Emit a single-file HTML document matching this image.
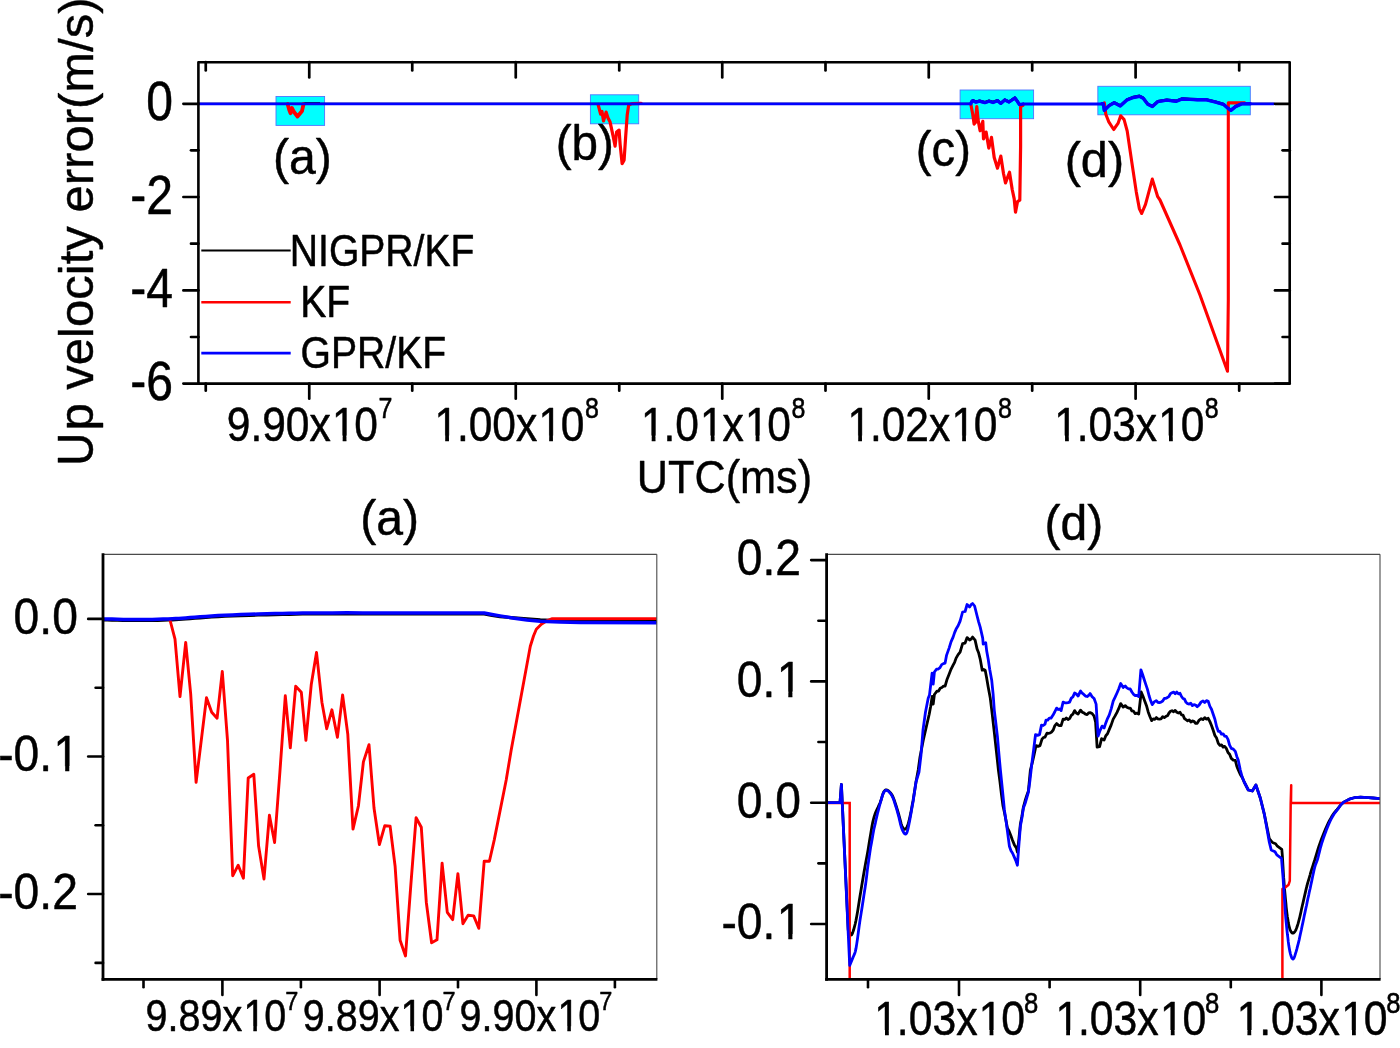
<!DOCTYPE html>
<html><head><meta charset="utf-8"><title>chart</title>
<style>html,body{margin:0;padding:0;background:#fff;}svg{display:block;will-change:transform;}text{font-family:"Liberation Sans",sans-serif;stroke:#000;stroke-width:0.45px;stroke-linejoin:round;}</style>
</head><body>
<svg width="1400" height="1048" viewBox="0 0 1400 1048">
<rect width="1400" height="1048" fill="#fff"/>
<rect x="276" y="96.5" width="48.60" height="28.90" fill="#00ffff" stroke="#4f74ff" stroke-width="0.9"/>
<rect x="590.4" y="94.8" width="48.30" height="29.00" fill="#00ffff" stroke="#4f74ff" stroke-width="0.9"/>
<rect x="960.1" y="90" width="73.50" height="28.70" fill="#00ffff" stroke="#4f74ff" stroke-width="0.9"/>
<rect x="1097.85" y="86.3" width="152.45" height="28.50" fill="#00ffff" stroke="#4f74ff" stroke-width="0.9"/>
<polyline points="198.4,103.8 970.8,103.8 971.5,101.3 972.8,100.0 976.0,101.5 979.5,100.4 984.8,102.0 989.0,100.5 993.0,101.8 997.5,100.0 1000.8,102.7 1004.8,99.3 1009.0,101.3 1012.0,99.3 1014.9,97.3 1016.9,100.0 1019.5,104.0 1022.9,104.0 1102.0,103.8 1103.4,103.3 1104.3,109.7 1108.8,105.2 1114.2,102.1 1120.3,105.2 1127.2,99.1 1133.3,96.8 1139.4,95.6 1143.2,97.5 1147.8,103.6 1152.3,105.9 1157.7,101.0 1166.8,99.4 1176.0,100.6 1182.1,98.3 1190.0,98.7 1197.4,99.1 1206.5,99.1 1215.7,101.4 1223.3,103.6 1227.9,107.5 1230.9,109.7 1235.5,105.9 1241.6,103.2 1250.3,103.8 1273.8,103.8" fill="none" stroke="#000000" stroke-width="2.0" stroke-linejoin="round" stroke-linecap="round" />
<line x1="303.60" y1="102.80" x2="320.00" y2="102.80" stroke="#000000" stroke-width="1.2" stroke-linecap="butt"/>
<polyline points="287.6,104.0 289.3,110.0 290.5,113.2 292.0,108.0 294.0,112.0 297.5,116.5 300.0,113.5 302.0,111.0 303.6,104.0" fill="none" stroke="#ff0000" stroke-width="3.8" stroke-linejoin="round" stroke-linecap="round" />
<polyline points="598.1,104.5 600.6,114.1 602.0,111.5 603.5,121.0 606.1,112.1 608.0,118.0 610.1,122.1 613.1,136.1 615.1,146.1 616.6,132.1 619.1,130.1 620.1,144.1 622.1,163.7 624.1,160.2 625.7,136.1 627.2,115.1 628.7,105.0 632.0,103.6 641.2,103.4" fill="none" stroke="#ff0000" stroke-width="3.2" stroke-linejoin="round" stroke-linecap="round" />
<polyline points="970.8,104.0 972.8,114.7 974.1,124.1 975.4,122.5 976.8,106.7 978.1,120.1 980.1,130.8 982.8,121.4 983.5,138.8 986.1,132.1 988.8,148.1 991.5,137.4 994.2,157.5 997.5,168.2 1000.8,156.1 1003.5,173.5 1005.5,182.9 1009.5,172.2 1012.2,189.5 1014.2,198.9 1015.5,212.2 1017.5,201.6 1019.8,200.2 1020.6,146.8 1020.6,106.7 1022.9,105.4" fill="none" stroke="#ff0000" stroke-width="3.2" stroke-linejoin="round" stroke-linecap="round" />
<polyline points="1104.3,102.8 1105.8,114.3 1108.8,121.9 1113.7,129.5 1118.0,123.4 1120.7,115.8 1124.1,119.6 1127.2,131.0 1131.7,161.6 1136.3,192.1 1139.4,208.9 1141.7,213.5 1145.5,204.3 1152.3,179.1 1157.7,196.7 1160.0,200.0 1180.0,245.0 1200.0,295.0 1227.5,371.2 1228.3,300.0 1228.3,102.8 1244.7,102.9" fill="none" stroke="#ff0000" stroke-width="3.1" stroke-linejoin="round" stroke-linecap="round" />
<polyline points="198.4,103.8 970.8,103.8 971.5,102.0 972.8,100.7 976.0,102.2 979.5,101.1 984.8,102.7 989.0,101.2 993.0,102.5 997.5,100.7 1000.8,103.4 1004.8,100.0 1009.0,102.0 1012.0,100.0 1014.9,98.0 1016.9,100.7 1019.5,104.7 1022.9,104.0 1102.0,103.8 1103.4,104.0 1104.3,110.4 1108.8,105.9 1114.2,102.8 1120.3,105.9 1127.2,99.8 1133.3,97.5 1139.4,96.3 1143.2,98.2 1147.8,104.3 1152.3,106.6 1157.7,101.7 1166.8,100.1 1176.0,101.3 1182.1,99.0 1190.0,99.4 1197.4,99.8 1206.5,99.8 1215.7,102.1 1223.3,104.3 1227.9,108.2 1230.9,110.4 1235.5,106.6 1241.6,103.9 1250.3,103.8 1273.8,103.8" fill="none" stroke="#0000ff" stroke-width="2.8" stroke-linejoin="round" stroke-linecap="round" />
<polyline points="970.8,103.8 971.5,102.0 972.8,100.7 976.0,102.2 979.5,101.1 984.8,102.7 989.0,101.2 993.0,102.5 997.5,100.7 1000.8,103.4 1004.8,100.0 1009.0,102.0 1012.0,100.0 1014.9,98.0 1016.9,100.7 1019.5,104.7 1022.9,104.0" fill="none" stroke="#0000ff" stroke-width="3.3" stroke-linejoin="round" stroke-linecap="round" />
<polyline points="1102.0,103.8 1103.4,104.0 1104.3,110.4 1108.8,105.9 1114.2,102.8 1120.3,105.9 1127.2,99.8 1133.3,97.5 1139.4,96.3 1143.2,98.2 1147.8,104.3 1152.3,106.6 1157.7,101.7 1166.8,100.1 1176.0,101.3 1182.1,99.0 1190.0,99.4 1197.4,99.8 1206.5,99.8 1215.7,102.1 1223.3,104.3 1227.9,108.2 1230.9,110.4 1235.5,106.6 1241.6,103.9 1250.3,103.8" fill="none" stroke="#0000ff" stroke-width="3.4" stroke-linejoin="round" stroke-linecap="round" />
<rect x="198.4" y="62.2" width="1091.30" height="321.40" fill="none" stroke="#000" stroke-width="2.6" stroke-linejoin="round"/>
<line x1="183.40" y1="103.80" x2="198.40" y2="103.80" stroke="#000" stroke-width="2.7" stroke-linecap="round"/>
<line x1="1275.00" y1="103.80" x2="1289.70" y2="103.80" stroke="#000" stroke-width="2.7" stroke-linecap="round"/>
<line x1="183.40" y1="197.00" x2="198.40" y2="197.00" stroke="#000" stroke-width="2.7" stroke-linecap="round"/>
<line x1="1275.00" y1="197.00" x2="1289.70" y2="197.00" stroke="#000" stroke-width="2.7" stroke-linecap="round"/>
<line x1="183.40" y1="290.40" x2="198.40" y2="290.40" stroke="#000" stroke-width="2.7" stroke-linecap="round"/>
<line x1="1275.00" y1="290.40" x2="1289.70" y2="290.40" stroke="#000" stroke-width="2.7" stroke-linecap="round"/>
<line x1="183.40" y1="383.60" x2="198.40" y2="383.60" stroke="#000" stroke-width="2.7" stroke-linecap="round"/>
<line x1="1275.00" y1="383.60" x2="1289.70" y2="383.60" stroke="#000" stroke-width="2.7" stroke-linecap="round"/>
<line x1="191.00" y1="150.30" x2="198.40" y2="150.30" stroke="#000" stroke-width="2.7" stroke-linecap="round"/>
<line x1="1282.60" y1="150.30" x2="1289.70" y2="150.30" stroke="#000" stroke-width="2.7" stroke-linecap="round"/>
<line x1="191.00" y1="243.70" x2="198.40" y2="243.70" stroke="#000" stroke-width="2.7" stroke-linecap="round"/>
<line x1="1282.60" y1="243.70" x2="1289.70" y2="243.70" stroke="#000" stroke-width="2.7" stroke-linecap="round"/>
<line x1="191.00" y1="337.00" x2="198.40" y2="337.00" stroke="#000" stroke-width="2.7" stroke-linecap="round"/>
<line x1="1282.60" y1="337.00" x2="1289.70" y2="337.00" stroke="#000" stroke-width="2.7" stroke-linecap="round"/>
<line x1="309.25" y1="62.20" x2="309.25" y2="77.50" stroke="#000" stroke-width="2.7" stroke-linecap="round"/>
<line x1="309.25" y1="383.60" x2="309.25" y2="398.70" stroke="#000" stroke-width="2.7" stroke-linecap="round"/>
<line x1="515.75" y1="62.20" x2="515.75" y2="77.50" stroke="#000" stroke-width="2.7" stroke-linecap="round"/>
<line x1="515.75" y1="383.60" x2="515.75" y2="398.70" stroke="#000" stroke-width="2.7" stroke-linecap="round"/>
<line x1="722.25" y1="62.20" x2="722.25" y2="77.50" stroke="#000" stroke-width="2.7" stroke-linecap="round"/>
<line x1="722.25" y1="383.60" x2="722.25" y2="398.70" stroke="#000" stroke-width="2.7" stroke-linecap="round"/>
<line x1="928.75" y1="62.20" x2="928.75" y2="77.50" stroke="#000" stroke-width="2.7" stroke-linecap="round"/>
<line x1="928.75" y1="383.60" x2="928.75" y2="398.70" stroke="#000" stroke-width="2.7" stroke-linecap="round"/>
<line x1="1135.60" y1="62.20" x2="1135.60" y2="77.50" stroke="#000" stroke-width="2.7" stroke-linecap="round"/>
<line x1="1135.60" y1="383.60" x2="1135.60" y2="398.70" stroke="#000" stroke-width="2.7" stroke-linecap="round"/>
<line x1="205.75" y1="62.20" x2="205.75" y2="70.40" stroke="#000" stroke-width="2.7" stroke-linecap="round"/>
<line x1="205.75" y1="383.60" x2="205.75" y2="390.70" stroke="#000" stroke-width="2.7" stroke-linecap="round"/>
<line x1="412.25" y1="62.20" x2="412.25" y2="70.40" stroke="#000" stroke-width="2.7" stroke-linecap="round"/>
<line x1="412.25" y1="383.60" x2="412.25" y2="390.70" stroke="#000" stroke-width="2.7" stroke-linecap="round"/>
<line x1="619.25" y1="62.20" x2="619.25" y2="70.40" stroke="#000" stroke-width="2.7" stroke-linecap="round"/>
<line x1="619.25" y1="383.60" x2="619.25" y2="390.70" stroke="#000" stroke-width="2.7" stroke-linecap="round"/>
<line x1="825.50" y1="62.20" x2="825.50" y2="70.40" stroke="#000" stroke-width="2.7" stroke-linecap="round"/>
<line x1="825.50" y1="383.60" x2="825.50" y2="390.70" stroke="#000" stroke-width="2.7" stroke-linecap="round"/>
<line x1="1032.20" y1="62.20" x2="1032.20" y2="70.40" stroke="#000" stroke-width="2.7" stroke-linecap="round"/>
<line x1="1032.20" y1="383.60" x2="1032.20" y2="390.70" stroke="#000" stroke-width="2.7" stroke-linecap="round"/>
<line x1="1239.20" y1="62.20" x2="1239.20" y2="70.40" stroke="#000" stroke-width="2.7" stroke-linecap="round"/>
<line x1="1239.20" y1="383.60" x2="1239.20" y2="390.70" stroke="#000" stroke-width="2.7" stroke-linecap="round"/>
<text transform="translate(172.90,120.30) scale(1.0000,1.1455)" font-size="48.1" text-anchor="end" fill="#000">0</text>
<text transform="translate(172.90,213.50) scale(1.0000,1.1455)" font-size="48.1" text-anchor="end" fill="#000">-2</text>
<text transform="translate(172.90,306.90) scale(1.0000,1.1455)" font-size="48.1" text-anchor="end" fill="#000">-4</text>
<text transform="translate(172.90,400.10) scale(1.0000,1.1455)" font-size="48.1" text-anchor="end" fill="#000">-6</text>
<clipPath id="k1"><path clip-rule="evenodd" d="M-2000,-2000H2000V2000H-2000ZM106.52,-4.47H115.93V2.12H106.52ZM119.69,-4.47H127.77V2.12H119.69Z"/></clipPath>
<text transform="translate(226.75,440.50) scale(1.0000,1.1106)" font-size="42.5" text-anchor="start" fill="#000" clip-path="url(#k1)"><tspan x="0.00">9.90x</tspan><tspan x="105.24">1</tspan><tspan x="127.61">0</tspan></text>
<text transform="translate(378.45,417.80) scale(1.0000,1.1680)" font-size="25.0" text-anchor="start" fill="#000">7</text>
<clipPath id="k2"><path clip-rule="evenodd" d="M-2000,-2000H2000V2000H-2000ZM2.55,-4.47H11.96V2.12H2.55ZM15.72,-4.47H23.80V2.12H15.72ZM106.52,-4.47H115.93V2.12H106.52ZM119.69,-4.47H127.77V2.12H119.69Z"/></clipPath>
<text transform="translate(433.25,440.50) scale(1.0000,1.1106)" font-size="42.5" text-anchor="start" fill="#000" clip-path="url(#k2)"><tspan x="1.27">1</tspan><tspan x="23.64">.00x</tspan><tspan x="105.24">1</tspan><tspan x="127.61">0</tspan></text>
<text transform="translate(584.95,417.80) scale(1.0000,1.1680)" font-size="25.0" text-anchor="start" fill="#000">8</text>
<clipPath id="k3"><path clip-rule="evenodd" d="M-2000,-2000H2000V2000H-2000ZM2.55,-4.47H11.96V2.12H2.55ZM15.72,-4.47H23.80V2.12H15.72ZM61.63,-4.47H71.05V2.12H61.63ZM74.80,-4.47H82.88V2.12H74.80ZM106.52,-4.47H115.93V2.12H106.52ZM119.69,-4.47H127.77V2.12H119.69Z"/></clipPath>
<text transform="translate(639.75,440.50) scale(1.0000,1.1106)" font-size="42.5" text-anchor="start" fill="#000" clip-path="url(#k3)"><tspan x="1.27">1</tspan><tspan x="23.64">.0</tspan><tspan x="60.36">1</tspan><tspan x="82.72">x</tspan><tspan x="105.24">1</tspan><tspan x="127.61">0</tspan></text>
<text transform="translate(791.45,417.80) scale(1.0000,1.1680)" font-size="25.0" text-anchor="start" fill="#000">8</text>
<clipPath id="k4"><path clip-rule="evenodd" d="M-2000,-2000H2000V2000H-2000ZM2.55,-4.47H11.96V2.12H2.55ZM15.72,-4.47H23.80V2.12H15.72ZM106.52,-4.47H115.93V2.12H106.52ZM119.69,-4.47H127.77V2.12H119.69Z"/></clipPath>
<text transform="translate(846.25,440.50) scale(1.0000,1.1106)" font-size="42.5" text-anchor="start" fill="#000" clip-path="url(#k4)"><tspan x="1.27">1</tspan><tspan x="23.64">.02x</tspan><tspan x="105.24">1</tspan><tspan x="127.61">0</tspan></text>
<text transform="translate(997.95,417.80) scale(1.0000,1.1680)" font-size="25.0" text-anchor="start" fill="#000">8</text>
<clipPath id="k5"><path clip-rule="evenodd" d="M-2000,-2000H2000V2000H-2000ZM2.55,-4.47H11.96V2.12H2.55ZM15.72,-4.47H23.80V2.12H15.72ZM106.52,-4.47H115.93V2.12H106.52ZM119.69,-4.47H127.77V2.12H119.69Z"/></clipPath>
<text transform="translate(1053.10,440.50) scale(1.0000,1.1106)" font-size="42.5" text-anchor="start" fill="#000" clip-path="url(#k5)"><tspan x="1.27">1</tspan><tspan x="23.64">.03x</tspan><tspan x="105.24">1</tspan><tspan x="127.61">0</tspan></text>
<text transform="translate(1204.80,417.80) scale(1.0000,1.1680)" font-size="25.0" text-anchor="start" fill="#000">8</text>
<text transform="translate(636.80,493.06) scale(0.8647,0.9185)" font-size="50" fill="#000" >UTC(ms)</text>
<text transform="translate(93.20,465.70) rotate(-90) scale(0.9300,1.0336)" font-size="49.05" text-anchor="start" fill="#000">U</text>
<text transform="translate(93.20,430.58) rotate(-90) scale(1.0000,0.9623)" font-size="49.05" text-anchor="start" fill="#000">p velocity error(m/s)</text>
<line x1="201.30" y1="250.50" x2="290.70" y2="250.50" stroke="#000000" stroke-width="2.0" stroke-linecap="butt"/>
<line x1="201.30" y1="302.30" x2="290.70" y2="302.30" stroke="#ff0000" stroke-width="2.6" stroke-linecap="butt"/>
<line x1="201.30" y1="353.10" x2="290.70" y2="353.10" stroke="#0000ff" stroke-width="2.6" stroke-linecap="butt"/>
<text transform="translate(289.80,265.80) scale(1.0000,1.1304)" font-size="39.1" text-anchor="start" fill="#000">NIGPR/KF</text>
<text transform="translate(300.20,316.60) scale(1.0000,1.1304)" font-size="39.1" text-anchor="start" fill="#000">KF</text>
<text transform="translate(300.60,367.80) scale(1.0000,1.1304)" font-size="39.1" text-anchor="start" fill="#000">GPR/KF</text>
<text transform="translate(273.01,174.44) scale(0.9636,1.0053)" font-size="50" fill="#000" >(a)</text>
<text transform="translate(555.64,160.34) scale(0.9527,1.0053)" font-size="50" fill="#000" >(b)</text>
<text transform="translate(915.86,166.14) scale(0.9455,1.0053)" font-size="50" fill="#000" >(c)</text>
<text transform="translate(1064.68,176.94) scale(0.9727,1.0053)" font-size="50" fill="#000" >(d)</text>
<clipPath id="c2"><rect x="103.0" y="554.35" width="553.8" height="424.94999999999993"/></clipPath>
<g clip-path="url(#c2)">
<polyline points="104.0,619.9 107.3,620.0 112.0,620.1 117.4,620.2 123.4,620.4 129.4,620.5 135.0,620.5 140.5,620.5 146.3,620.4 152.1,620.4 157.7,620.3 163.1,620.1 168.0,620.0 172.2,619.8 175.7,619.6 178.9,619.4 182.1,619.2 185.7,618.9 190.0,618.6 194.9,618.2 200.1,617.8 205.8,617.4 211.7,617.0 218.1,616.6 225.0,616.2 232.5,615.9 240.7,615.6 249.4,615.3 258.1,615.0 266.8,614.8 275.0,614.6 282.4,614.4 289.1,614.3 295.6,614.2 302.6,614.0 310.5,614.0 320.0,613.9 332.2,613.9 347.0,613.8 362.8,613.9 378.0,613.9 390.9,613.9 400.0,613.9 484.2,614.0 492.0,615.5 500.0,616.6 514.2,617.9 527.0,618.8 540.3,619.9 560.0,620.8 580.4,621.3 656.5,621.5" fill="none" stroke="#000000" stroke-width="3.2" stroke-linejoin="round" stroke-linecap="round" />
<polyline points="170.0,620.0 175.0,639.1 180.0,696.6 185.7,642.5 190.7,694.2 196.1,782.4 201.3,740.1 206.5,697.8 211.7,712.2 217.1,718.2 222.3,671.5 227.5,740.3 232.7,875.8 238.2,865.2 243.4,878.2 248.2,778.0 253.8,774.3 258.6,846.1 264.0,879.0 269.4,815.3 274.6,842.5 279.9,772.0 285.3,695.8 290.3,747.9 295.7,686.2 301.3,692.2 305.9,740.3 311.3,684.2 316.5,652.5 321.9,702.2 326.7,728.7 331.9,709.8 337.4,737.3 342.6,695.0 347.8,734.3 353.0,829.1 358.4,806.0 363.4,761.9 369.0,744.7 374.0,808.0 379.4,844.5 384.8,825.7 390.1,826.1 395.1,866.2 400.1,940.3 405.5,956.0 410.9,884.2 416.1,817.7 421.3,827.3 426.3,902.2 431.6,942.7 437.0,939.8 442.1,863.2 447.3,912.3 452.7,919.7 457.9,873.6 462.9,923.7 468.1,915.3 473.7,915.9 478.8,928.3 484.2,861.2 489.4,861.2 494.2,840.1 506.2,780.0 511.2,750.0 530.3,646.2 533.5,636.0 536.3,629.2 541.3,624.2 547.3,620.6 552.3,618.7 657.0,618.6" fill="none" stroke="#ff0000" stroke-width="2.9" stroke-linejoin="round" stroke-linecap="round" />
<polyline points="104.0,618.9 107.3,619.0 112.0,619.1 117.4,619.2 123.4,619.4 129.4,619.5 135.0,619.5 140.5,619.5 146.3,619.4 152.1,619.4 157.7,619.3 163.1,619.1 168.0,619.0 172.2,618.8 175.7,618.6 178.9,618.4 182.1,618.2 185.7,617.9 190.0,617.6 194.9,617.2 200.1,616.8 205.8,616.4 211.7,616.0 218.1,615.6 225.0,615.2 232.5,614.9 240.7,614.6 249.4,614.3 258.1,614.0 266.8,613.8 275.0,613.6 282.4,613.4 289.1,613.3 295.6,613.2 302.6,613.0 310.5,613.0 320.0,612.9 332.2,612.9 347.0,612.8 362.8,612.9 378.0,612.9 390.9,612.9 400.0,612.9 484.2,613.0 492.0,614.5 500.0,615.9 514.2,618.2 527.0,619.9 540.3,621.2 560.0,622.1 580.4,622.6 656.5,622.8" fill="none" stroke="#0000ff" stroke-width="3.5" stroke-linejoin="round" stroke-linecap="round" />
</g>
<line x1="103.00" y1="554.35" x2="656.80" y2="554.35" stroke="#4a4a4a" stroke-width="1.1" stroke-linecap="butt"/>
<line x1="656.80" y1="554.35" x2="656.80" y2="979.30" stroke="#4a4a4a" stroke-width="1.1" stroke-linecap="butt"/>
<line x1="103.00" y1="553.35" x2="103.00" y2="980.70" stroke="#000" stroke-width="2.8" stroke-linecap="butt"/>
<line x1="101.60" y1="979.30" x2="657.40" y2="979.30" stroke="#000" stroke-width="2.8" stroke-linecap="butt"/>
<line x1="88.20" y1="618.90" x2="103.00" y2="618.90" stroke="#000" stroke-width="2.6" stroke-linecap="round"/>
<line x1="88.20" y1="756.45" x2="103.00" y2="756.45" stroke="#000" stroke-width="2.6" stroke-linecap="round"/>
<line x1="88.20" y1="894.00" x2="103.00" y2="894.00" stroke="#000" stroke-width="2.6" stroke-linecap="round"/>
<line x1="95.60" y1="687.70" x2="103.00" y2="687.70" stroke="#000" stroke-width="2.6" stroke-linecap="round"/>
<line x1="95.60" y1="825.20" x2="103.00" y2="825.20" stroke="#000" stroke-width="2.6" stroke-linecap="round"/>
<line x1="95.60" y1="962.90" x2="103.00" y2="962.90" stroke="#000" stroke-width="2.6" stroke-linecap="round"/>
<line x1="222.40" y1="979.30" x2="222.40" y2="995.00" stroke="#000" stroke-width="2.6" stroke-linecap="round"/>
<line x1="379.60" y1="979.30" x2="379.60" y2="995.00" stroke="#000" stroke-width="2.6" stroke-linecap="round"/>
<line x1="536.40" y1="979.30" x2="536.40" y2="995.00" stroke="#000" stroke-width="2.6" stroke-linecap="round"/>
<line x1="143.50" y1="979.30" x2="143.50" y2="987.20" stroke="#000" stroke-width="2.6" stroke-linecap="round"/>
<line x1="300.90" y1="979.30" x2="300.90" y2="987.20" stroke="#000" stroke-width="2.6" stroke-linecap="round"/>
<line x1="458.00" y1="979.30" x2="458.00" y2="987.20" stroke="#000" stroke-width="2.6" stroke-linecap="round"/>
<line x1="614.90" y1="979.30" x2="614.90" y2="987.20" stroke="#000" stroke-width="2.6" stroke-linecap="round"/>
<text transform="translate(77.90,633.80) scale(1.0000,1.0941)" font-size="46.25" text-anchor="end" fill="#000">0.0</text>
<clipPath id="k6"><path clip-rule="evenodd" d="M-2000,-2000H2000V2000H-2000ZM-22.95,-4.75H-12.70V2.31H-22.95ZM-8.62,-4.75H0.18V2.31H-8.62Z"/></clipPath>
<text transform="translate(77.90,771.35) scale(1.0000,1.0941)" font-size="46.25" text-anchor="start" fill="#000" clip-path="url(#k6)"><tspan x="-79.70">-0.</tspan><tspan x="-24.34">1</tspan></text>
<text transform="translate(77.90,908.90) scale(1.0000,1.0941)" font-size="46.25" text-anchor="end" fill="#000">-0.2</text>
<clipPath id="k7"><path clip-rule="evenodd" d="M-2000,-2000H2000V2000H-2000ZM99.00,-4.25H107.75V1.98H99.00ZM111.24,-4.25H118.75V1.98H111.24Z"/></clipPath>
<text transform="translate(145.60,1031.00) scale(1.0000,1.1063)" font-size="39.5" text-anchor="start" fill="#000" clip-path="url(#k7)"><tspan x="0.00">9.89x</tspan><tspan x="97.81">1</tspan><tspan x="118.60">0</tspan></text>
<text transform="translate(285.30,1009.70) scale(1.0000,1.0851)" font-size="23.5" text-anchor="start" fill="#000">7</text>
<clipPath id="k8"><path clip-rule="evenodd" d="M-2000,-2000H2000V2000H-2000ZM99.00,-4.25H107.75V1.98H99.00ZM111.24,-4.25H118.75V1.98H111.24Z"/></clipPath>
<text transform="translate(302.80,1031.00) scale(1.0000,1.1063)" font-size="39.5" text-anchor="start" fill="#000" clip-path="url(#k8)"><tspan x="0.00">9.89x</tspan><tspan x="97.81">1</tspan><tspan x="118.60">0</tspan></text>
<text transform="translate(442.50,1009.70) scale(1.0000,1.0851)" font-size="23.5" text-anchor="start" fill="#000">7</text>
<clipPath id="k9"><path clip-rule="evenodd" d="M-2000,-2000H2000V2000H-2000ZM99.00,-4.25H107.75V1.98H99.00ZM111.24,-4.25H118.75V1.98H111.24Z"/></clipPath>
<text transform="translate(459.60,1031.00) scale(1.0000,1.1063)" font-size="39.5" text-anchor="start" fill="#000" clip-path="url(#k9)"><tspan x="0.00">9.90x</tspan><tspan x="97.81">1</tspan><tspan x="118.60">0</tspan></text>
<text transform="translate(599.30,1009.70) scale(1.0000,1.0851)" font-size="23.5" text-anchor="start" fill="#000">7</text>
<text transform="translate(360.16,535.46) scale(0.9631,1.0015)" font-size="50" fill="#000" >(a)</text>
<clipPath id="c3"><rect x="826.6" y="554.35" width="553.4" height="424.94999999999993"/></clipPath>
<g clip-path="url(#c3)">
<polyline points="827.0,802.7 840.0,802.7 841.4,784.4 848.2,930.0 850.0,933.3 850.2,933.7 850.6,934.3 851.0,934.9 851.4,935.0 852.0,934.3 852.7,932.6 853.5,930.3 854.3,927.3 855.2,924.0 856.0,920.3 856.8,916.1 857.6,911.4 858.4,906.4 859.2,901.3 860.0,896.3 860.8,891.5 861.6,886.6 862.4,881.7 863.2,876.9 864.0,872.2 864.8,867.7 865.6,863.3 866.4,859.1 867.2,854.7 868.0,850.2 868.8,845.3 869.6,840.1 870.5,835.0 871.3,830.2 872.0,826.1 872.6,822.9 873.2,820.4 873.7,818.3 874.3,816.2 875.0,814.1 875.9,811.8 876.9,809.6 878.0,807.4 879.0,805.2 880.0,803.0 880.9,800.6 881.7,797.9 882.4,795.4 883.2,793.1 884.0,791.5 884.8,790.5 885.6,790.0 886.3,789.9 887.1,790.1 888.0,790.5 888.9,791.2 889.9,792.2 891.0,793.4 892.0,795.0 893.0,797.0 894.0,799.5 895.0,802.4 896.1,805.7 897.1,808.9 898.0,812.0 898.9,815.0 899.7,818.2 900.5,821.2 901.2,823.9 902.0,826.0 902.7,827.5 903.4,828.5 904.1,829.1 904.8,829.3 905.5,829.0 906.2,828.3 906.9,827.2 907.6,825.6 908.3,823.5 909.0,821.0 909.8,817.4 910.8,812.9 911.7,808.1 912.4,803.9 913.0,801.0 916.0,782.0 918.2,770.0 920.0,757.0 923.2,740.4 929.2,714.3 930.7,706.3 932.2,696.3 933.2,704.0 934.4,694.5 937.0,691.2 938.6,691.0 940.2,688.3 941.9,687.5 943.5,686.2 945.1,686.2 947.1,679.2 949.1,674.2 951.1,669.1 953.1,665.1 954.6,662.3 956.1,658.1 958.1,654.6 960.1,652.1 962.6,643.6 965.1,643.1 967.1,637.6 969.6,640.1 971.1,639.1 972.6,637.1 975.1,640.1 977.1,649.1 978.7,653.1 980.2,659.1 982.2,670.2 983.7,669.4 985.2,670.2 986.7,678.2 988.2,687.1 989.7,695.0 990.3,698.3 992.3,714.8 994.3,732.3 996.3,750.5 998.4,770.0 999.9,781.2 1001.5,794.8 1003.0,806.0 1004.5,812.8 1005.9,820.0 1007.4,828.0 1009.1,831.2 1010.7,835.3 1012.4,840.0 1014.4,844.9 1016.4,848.0 1017.4,852.2 1018.9,838.9 1020.4,824.0 1021.9,816.2 1023.4,807.0 1025.1,800.8 1026.7,795.8 1028.4,791.0 1030.4,770.0 1032.3,762.6 1034.1,754.6 1036.0,745.6 1038.0,746.4 1040.0,745.6 1042.0,739.1 1043.5,737.5 1045.0,737.1 1047.0,733.1 1048.5,733.3 1050.0,733.0 1051.5,732.1 1053.2,730.0 1054.9,725.6 1056.6,723.6 1058.1,724.9 1059.6,725.7 1061.1,725.6 1063.1,719.1 1064.7,719.5 1066.3,717.9 1068.0,719.6 1069.6,718.6 1071.3,715.4 1072.9,714.1 1074.6,710.6 1076.3,713.0 1078.1,714.1 1080.6,710.1 1082.2,712.2 1083.8,712.9 1085.5,714.2 1087.1,714.6 1088.6,712.9 1090.1,712.6 1092.1,713.5 1094.1,716.1 1095.6,722.1 1097.1,747.1 1099.6,746.6 1101.6,738.6 1104.1,740.1 1105.8,735.7 1107.5,733.8 1109.2,729.6 1111.2,724.9 1113.2,719.1 1115.1,715.9 1117.0,712.3 1118.8,708.4 1120.7,703.6 1123.2,707.1 1125.2,705.6 1126.9,707.3 1128.5,708.1 1130.2,708.1 1131.9,710.9 1133.5,711.2 1135.2,713.6 1137.0,713.2 1138.7,714.1 1141.2,692.0 1143.0,696.3 1144.7,700.9 1146.5,705.7 1148.2,711.9 1150.0,716.8 1151.7,720.6 1153.2,718.9 1154.8,719.3 1156.3,717.6 1157.8,718.9 1159.3,719.1 1161.0,718.9 1162.7,716.7 1164.3,717.6 1166.0,716.3 1167.5,715.7 1169.0,713.0 1170.5,711.3 1172.0,710.7 1173.6,711.8 1175.2,710.4 1176.8,712.2 1178.4,713.0 1180.0,712.3 1181.5,714.9 1183.0,715.1 1184.5,718.6 1186.0,719.7 1187.6,720.8 1189.2,719.9 1190.8,722.0 1192.4,721.0 1194.0,721.3 1195.6,723.4 1197.2,723.3 1199.2,720.1 1201.2,718.7 1203.0,719.6 1204.7,717.7 1206.5,719.2 1208.2,718.3 1209.9,721.6 1211.5,725.5 1213.2,730.3 1214.9,735.5 1216.6,738.1 1218.3,743.4 1219.9,745.3 1221.5,744.8 1223.1,747.1 1224.7,746.4 1226.3,748.4 1228.0,752.5 1229.6,754.2 1231.3,758.4 1233.3,760.1 1235.3,760.4 1236.8,766.2 1238.3,770.0 1240.3,774.5 1242.2,777.4 1244.2,782.0 1248.3,790.0 1252.3,791.0 1255.9,785.0 1260.3,798.0 1264.3,814.1 1269.3,838.5 1272.5,842.5 1275.6,843.7 1277.4,846.2 1281.8,849.3 1282.4,856.1 1283.6,877.2 1283.9,880.3 1284.2,884.8 1284.6,889.9 1285.1,895.1 1285.5,899.6 1285.9,903.5 1286.2,907.1 1286.6,910.6 1287.0,913.8 1287.4,916.9 1287.9,919.8 1288.3,922.6 1288.8,925.2 1289.4,927.4 1289.9,929.3 1290.5,930.7 1291.1,931.8 1291.7,932.5 1292.4,933.0 1293.0,933.1 1293.6,932.9 1294.2,932.4 1294.9,931.6 1295.5,930.6 1296.1,929.3 1296.7,927.8 1297.3,926.0 1298.0,923.9 1298.6,921.7 1299.2,919.4 1299.8,917.0 1300.4,914.4 1301.0,911.7 1301.6,908.8 1302.3,905.8 1303.1,902.4 1303.9,898.7 1304.8,894.9 1305.6,891.4 1306.3,888.4 1306.9,886.2 1307.3,884.4 1307.7,883.0 1308.1,881.6 1308.6,880.0 1309.1,878.3 1309.6,876.5 1310.1,874.8 1310.6,872.9 1311.2,871.0 1311.8,869.0 1312.5,866.9 1313.2,864.7 1313.9,862.4 1314.7,860.0 1315.5,857.3 1316.4,854.4 1317.3,851.4 1318.2,848.5 1319.1,845.8 1320.0,843.3 1320.8,841.0 1321.6,838.8 1322.5,836.6 1323.4,834.3 1324.3,832.0 1325.3,829.6 1326.3,827.3 1327.3,825.0 1328.3,822.9 1329.3,821.0 1330.3,819.1 1331.3,817.4 1332.2,815.8 1333.2,814.3 1334.1,813.0 1335.1,811.8 1336.0,810.7 1336.9,809.7 1337.8,808.6 1338.7,807.5 1339.6,806.3 1340.5,805.2 1341.4,804.2 1342.3,803.3 1343.2,802.6 1344.2,801.9 1345.1,801.4 1346.0,800.9 1347.0,800.4 1347.9,799.9 1348.8,799.5 1349.7,799.0 1350.8,798.6 1352.0,798.3 1353.3,798.0 1354.6,797.7 1356.1,797.4 1358.0,797.3 1360.5,797.2 1364.0,797.3 1368.4,797.6 1373.1,798.0 1377.2,798.3 1380.0,798.5" fill="none" stroke="#000000" stroke-width="2.8" stroke-linejoin="round" stroke-linecap="round" />
<polyline points="827.0,803.0 849.7,803.0 849.7,985.0" fill="none" stroke="#ff0000" stroke-width="2.5" stroke-linejoin="miter" stroke-linecap="round" />
<polyline points="1282.4,985.0 1282.4,889.0 1284.9,887.8 1288.6,884.7 1289.8,880.9 1290.7,803.0 1291.2,785.2 1291.0,803.0 1381.0,803.0" fill="none" stroke="#ff0000" stroke-width="2.5" stroke-linejoin="round" stroke-linecap="round" />
<polyline points="827.0,802.7 840.0,802.7 841.4,784.4 849.7,965.4 853.0,957.4 853.4,956.5 853.9,955.4 854.6,953.8 855.3,951.6 856.0,948.4 856.7,944.1 857.5,938.7 858.3,932.7 859.1,926.5 860.0,920.3 861.0,914.1 862.0,907.7 863.0,901.2 864.0,894.6 865.0,888.3 865.9,882.1 866.7,875.8 867.4,869.7 868.2,863.8 869.0,858.2 869.8,852.8 870.6,847.6 871.5,842.7 872.3,838.2 873.0,834.1 873.6,830.7 874.2,827.8 874.8,825.3 875.4,822.8 876.0,820.0 876.7,816.9 877.5,813.5 878.4,810.2 879.2,807.0 880.0,804.0 880.8,801.2 881.6,798.4 882.4,795.8 883.2,793.6 884.0,792.0 884.8,791.0 885.6,790.4 886.3,790.3 887.1,790.5 888.0,791.0 888.9,791.7 889.9,792.8 891.0,794.2 892.0,795.9 893.0,798.0 894.0,800.6 895.0,803.8 896.1,807.2 897.1,810.7 898.0,814.0 898.9,817.2 899.7,820.6 900.4,823.8 901.2,826.7 902.0,829.0 902.8,830.9 903.6,832.4 904.5,833.6 905.3,834.1 906.0,834.0 906.6,833.2 907.2,831.7 907.8,829.6 908.4,827.0 909.0,824.0 909.8,820.0 910.7,815.0 911.6,809.8 912.4,805.2 913.0,802.0 916.0,782.0 919.0,772.0 921.0,755.0 923.0,730.0 925.5,712.0 928.2,698.3 929.5,695.0 932.1,673.2 933.2,684.0 934.4,672.0 936.6,669.2 938.3,669.0 940.0,667.6 941.7,664.6 943.4,663.6 945.1,663.1 946.6,655.1 949.1,648.1 951.1,641.6 953.1,637.1 954.6,632.6 956.1,629.1 958.1,625.8 960.1,621.1 962.6,612.0 965.1,611.5 967.1,604.5 969.6,607.0 971.1,604.7 972.6,603.5 974.6,606.0 977.1,616.0 978.7,622.1 980.2,627.1 982.7,638.1 983.2,644.1 985.7,642.6 986.7,651.1 988.2,659.2 989.7,669.2 991.7,680.2 993.2,695.0 994.3,710.3 995.8,722.6 997.4,736.4 998.9,753.7 1000.4,770.0 1002.4,789.5 1004.4,810.0 1006.1,821.4 1007.7,833.4 1009.4,846.2 1011.0,850.8 1012.6,853.2 1014.2,856.9 1015.8,860.6 1017.4,865.2 1018.9,844.9 1020.4,826.1 1021.9,818.0 1023.4,808.1 1025.1,803.5 1026.7,798.0 1028.4,792.0 1030.0,780.0 1031.8,764.0 1033.7,749.2 1035.5,734.6 1037.5,735.4 1039.5,734.6 1041.5,725.1 1043.2,725.5 1045.0,724.1 1046.0,720.1 1047.7,720.2 1049.3,718.2 1051.0,718.1 1052.9,715.3 1054.7,712.0 1056.6,708.1 1058.1,709.6 1059.6,708.9 1061.1,710.6 1063.1,702.1 1064.7,702.8 1066.3,702.9 1068.0,702.6 1069.6,702.1 1071.3,698.1 1072.9,696.9 1074.6,693.0 1076.3,694.0 1078.1,696.0 1080.6,691.0 1082.2,693.2 1083.8,694.4 1085.5,696.1 1087.1,696.5 1088.6,695.5 1090.1,693.5 1092.1,696.7 1094.1,698.5 1096.1,704.1 1098.1,736.1 1100.1,730.4 1102.1,726.1 1104.1,728.1 1105.8,722.9 1107.5,718.6 1109.2,715.1 1111.2,708.8 1113.2,701.1 1115.1,697.2 1117.0,693.0 1118.8,688.8 1120.7,683.5 1123.2,687.5 1125.2,686.0 1126.9,687.9 1128.5,688.9 1130.2,689.0 1131.9,692.0 1133.5,694.3 1135.2,695.5 1137.0,695.5 1138.7,696.5 1140.9,669.8 1142.5,674.2 1144.1,679.2 1145.7,684.1 1147.4,689.1 1149.0,695.5 1150.6,700.6 1152.2,704.6 1154.2,701.9 1156.3,700.6 1157.8,702.3 1159.3,702.6 1161.0,702.1 1162.7,701.0 1164.3,698.4 1166.0,698.3 1167.5,697.5 1169.0,696.3 1170.5,693.6 1172.0,692.7 1173.6,692.1 1175.2,693.7 1176.8,692.1 1178.4,693.8 1180.0,693.3 1181.5,696.5 1183.0,698.5 1184.5,699.1 1186.0,702.3 1187.6,703.7 1189.2,704.1 1190.8,703.3 1192.4,705.6 1194.0,704.7 1195.6,705.1 1197.2,706.7 1199.2,704.9 1201.2,701.9 1203.0,700.9 1204.7,702.6 1206.5,700.6 1208.2,701.3 1209.9,706.4 1211.5,709.3 1213.2,714.3 1214.9,719.2 1216.6,726.5 1218.3,731.3 1219.9,731.4 1221.5,734.2 1223.1,733.8 1224.7,736.1 1226.3,736.4 1228.0,739.4 1229.6,745.1 1231.3,748.4 1233.3,749.1 1235.3,751.4 1236.8,756.4 1238.2,760.0 1240.3,770.0 1242.2,777.0 1244.2,782.0 1248.3,790.0 1252.3,791.0 1255.9,785.0 1260.3,798.0 1264.3,814.1 1269.3,842.2 1271.2,849.9 1275.0,851.8 1276.8,854.9 1281.5,858.3 1283.0,877.2 1283.2,879.7 1283.4,883.3 1283.7,887.5 1284.0,891.8 1284.3,895.8 1284.5,899.5 1284.8,903.2 1285.0,906.9 1285.2,910.6 1285.5,914.4 1285.8,918.3 1286.2,922.4 1286.6,926.5 1287.0,930.5 1287.4,934.3 1287.9,938.1 1288.3,941.9 1288.8,945.6 1289.4,948.9 1289.9,951.7 1290.5,954.1 1291.1,956.1 1291.7,957.7 1292.4,958.7 1293.0,959.1 1293.6,958.7 1294.2,957.6 1294.8,955.9 1295.4,953.9 1296.1,951.7 1296.8,949.2 1297.5,946.4 1298.3,943.3 1299.1,940.1 1299.8,936.8 1300.5,933.5 1301.3,930.0 1302.0,926.5 1302.8,922.9 1303.5,919.4 1304.2,915.9 1305.0,912.4 1305.7,909.0 1306.5,905.5 1307.2,902.0 1307.9,898.5 1308.7,895.1 1309.4,891.6 1310.2,888.2 1310.9,884.7 1311.7,881.1 1312.5,877.3 1313.3,873.5 1314.0,870.1 1314.7,867.3 1315.3,865.3 1315.8,864.0 1316.2,862.9 1316.7,861.7 1317.3,860.0 1318.0,857.6 1318.7,854.7 1319.5,851.6 1320.2,848.6 1321.0,845.8 1321.7,843.3 1322.5,841.0 1323.2,838.8 1324.0,836.6 1324.8,834.3 1325.7,832.0 1326.5,829.6 1327.5,827.3 1328.4,825.0 1329.3,822.9 1330.2,821.0 1331.1,819.1 1332.1,817.4 1333.0,815.8 1333.9,814.3 1334.8,813.0 1335.7,811.8 1336.5,810.7 1337.4,809.7 1338.2,808.6 1339.0,807.5 1339.8,806.3 1340.6,805.2 1341.4,804.2 1342.3,803.3 1343.2,802.6 1344.1,801.9 1345.1,801.4 1346.0,800.9 1347.0,800.4 1347.9,799.9 1348.8,799.5 1349.7,799.0 1350.8,798.6 1352.0,798.3 1353.3,798.0 1354.6,797.7 1356.1,797.4 1358.0,797.3 1360.5,797.2 1364.0,797.3 1368.4,797.6 1373.1,798.0 1377.2,798.3 1380.0,798.5" fill="none" stroke="#0000ff" stroke-width="2.8" stroke-linejoin="round" stroke-linecap="round" />
</g>
<line x1="826.60" y1="554.35" x2="1380.00" y2="554.35" stroke="#4a4a4a" stroke-width="1.1" stroke-linecap="butt"/>
<line x1="1380.00" y1="554.35" x2="1380.00" y2="979.30" stroke="#4a4a4a" stroke-width="1.1" stroke-linecap="butt"/>
<line x1="826.60" y1="553.35" x2="826.60" y2="980.70" stroke="#000" stroke-width="2.8" stroke-linecap="butt"/>
<line x1="825.20" y1="979.30" x2="1380.60" y2="979.30" stroke="#000" stroke-width="2.8" stroke-linecap="butt"/>
<line x1="811.20" y1="560.10" x2="826.60" y2="560.10" stroke="#000" stroke-width="2.6" stroke-linecap="round"/>
<line x1="811.20" y1="681.40" x2="826.60" y2="681.40" stroke="#000" stroke-width="2.6" stroke-linecap="round"/>
<line x1="811.20" y1="802.70" x2="826.60" y2="802.70" stroke="#000" stroke-width="2.6" stroke-linecap="round"/>
<line x1="811.20" y1="924.00" x2="826.60" y2="924.00" stroke="#000" stroke-width="2.6" stroke-linecap="round"/>
<line x1="818.40" y1="620.75" x2="826.60" y2="620.75" stroke="#000" stroke-width="2.6" stroke-linecap="round"/>
<line x1="818.40" y1="742.05" x2="826.60" y2="742.05" stroke="#000" stroke-width="2.6" stroke-linecap="round"/>
<line x1="818.40" y1="863.35" x2="826.60" y2="863.35" stroke="#000" stroke-width="2.6" stroke-linecap="round"/>
<line x1="959.00" y1="979.30" x2="959.00" y2="995.00" stroke="#000" stroke-width="2.6" stroke-linecap="round"/>
<line x1="1140.20" y1="979.30" x2="1140.20" y2="995.00" stroke="#000" stroke-width="2.6" stroke-linecap="round"/>
<line x1="1321.40" y1="979.30" x2="1321.40" y2="995.00" stroke="#000" stroke-width="2.6" stroke-linecap="round"/>
<line x1="868.00" y1="979.30" x2="868.00" y2="987.20" stroke="#000" stroke-width="2.6" stroke-linecap="round"/>
<line x1="1049.60" y1="979.30" x2="1049.60" y2="987.20" stroke="#000" stroke-width="2.6" stroke-linecap="round"/>
<line x1="1230.80" y1="979.30" x2="1230.80" y2="987.20" stroke="#000" stroke-width="2.6" stroke-linecap="round"/>
<text transform="translate(801.00,575.40) scale(1.0000,1.0866)" font-size="46.2" text-anchor="end" fill="#000">0.2</text>
<clipPath id="k10"><path clip-rule="evenodd" d="M-2000,-2000H2000V2000H-2000ZM-22.92,-4.75H-12.69V2.31H-22.92ZM-8.61,-4.75H0.18V2.31H-8.61Z"/></clipPath>
<text transform="translate(801.00,696.70) scale(1.0000,1.0866)" font-size="46.2" text-anchor="start" fill="#000" clip-path="url(#k10)"><tspan x="-64.23">0.</tspan><tspan x="-24.31">1</tspan></text>
<text transform="translate(801.00,818.00) scale(1.0000,1.0866)" font-size="46.2" text-anchor="end" fill="#000">0.0</text>
<clipPath id="k11"><path clip-rule="evenodd" d="M-2000,-2000H2000V2000H-2000ZM-22.92,-4.75H-12.69V2.31H-22.92ZM-8.61,-4.75H0.18V2.31H-8.61Z"/></clipPath>
<text transform="translate(801.00,939.30) scale(1.0000,1.0866)" font-size="46.2" text-anchor="start" fill="#000" clip-path="url(#k11)"><tspan x="-79.61">-0.</tspan><tspan x="-24.31">1</tspan></text>
<clipPath id="k12"><path clip-rule="evenodd" d="M-2000,-2000H2000V2000H-2000ZM2.56,-4.49H12.03V2.14H2.56ZM15.81,-4.49H23.94V2.14H15.81ZM107.15,-4.49H116.61V2.14H107.15ZM120.39,-4.49H128.52V2.14H120.39Z"/></clipPath>
<text transform="translate(873.00,1035.10) scale(1.0000,1.1205)" font-size="42.75" text-anchor="start" fill="#000" clip-path="url(#k12)"><tspan x="1.28">1</tspan><tspan x="23.78">.03x</tspan><tspan x="105.86">1</tspan><tspan x="128.36">0</tspan></text>
<text transform="translate(1023.90,1013.10) scale(1.0000,1.1440)" font-size="25.7" text-anchor="start" fill="#000">8</text>
<clipPath id="k13"><path clip-rule="evenodd" d="M-2000,-2000H2000V2000H-2000ZM2.56,-4.49H12.03V2.14H2.56ZM15.81,-4.49H23.94V2.14H15.81ZM107.15,-4.49H116.61V2.14H107.15ZM120.39,-4.49H128.52V2.14H120.39Z"/></clipPath>
<text transform="translate(1054.20,1035.10) scale(1.0000,1.1205)" font-size="42.75" text-anchor="start" fill="#000" clip-path="url(#k13)"><tspan x="1.28">1</tspan><tspan x="23.78">.03x</tspan><tspan x="105.86">1</tspan><tspan x="128.36">0</tspan></text>
<text transform="translate(1205.10,1013.10) scale(1.0000,1.1440)" font-size="25.7" text-anchor="start" fill="#000">8</text>
<clipPath id="k14"><path clip-rule="evenodd" d="M-2000,-2000H2000V2000H-2000ZM2.56,-4.49H12.03V2.14H2.56ZM15.81,-4.49H23.94V2.14H15.81ZM107.15,-4.49H116.61V2.14H107.15ZM120.39,-4.49H128.52V2.14H120.39Z"/></clipPath>
<text transform="translate(1235.40,1035.10) scale(1.0000,1.1205)" font-size="42.75" text-anchor="start" fill="#000" clip-path="url(#k14)"><tspan x="1.28">1</tspan><tspan x="23.78">.03x</tspan><tspan x="105.86">1</tspan><tspan x="128.36">0</tspan></text>
<text transform="translate(1386.30,1013.10) scale(1.0000,1.1440)" font-size="25.7" text-anchor="start" fill="#000">8</text>
<text transform="translate(1044.46,540.01) scale(0.9605,0.9989)" font-size="50" fill="#000" >(d)</text>
</svg>
</body></html>
